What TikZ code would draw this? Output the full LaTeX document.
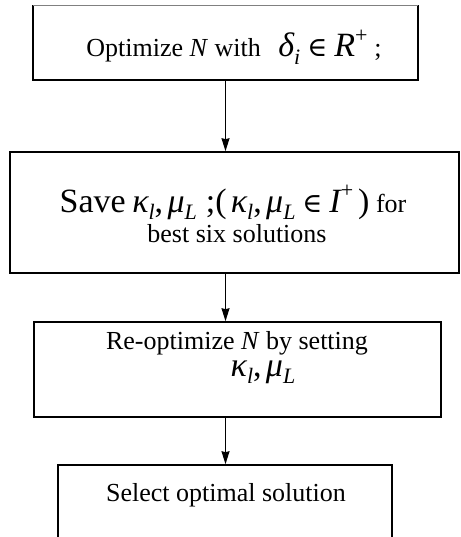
\documentclass[tikz,border=0pt]{standalone}
\usepackage{fontspec}
\setmainfont{Liberation Serif}
\newfontfamily\symf{DejaVu Serif}
\usetikzlibrary{arrows.meta,calc}
\newcommand{\tsz}{\fontsize{26}{31}\selectfont}
\newcommand{\msz}{\fontsize{34}{36}\selectfont}
\newcommand{\ssz}{\fontsize{22}{22}\selectfont}
\newcommand{\mv}[1]{{\msz\itshape #1}}
\newcommand{\sub}[1]{\raisebox{-0.28em}{\ssz\itshape #1}}
\newcommand{\sups}[1]{\raisebox{0.55em}{\ssz #1}}
\newcommand{\elem}{\hspace{7pt}{\symf\fontsize{27}{27}\selectfont ∈}\hspace{7pt}}
\begin{document}
\begin{tikzpicture}[x=1pt,y=-1pt,
  box/.style={draw,line width=1.6pt,rectangle,inner sep=0pt},
  txt/.style={inner sep=0pt,anchor=base,font=\tsz},
  arr/.style={line width=1.3pt,-{Stealth[length=13pt,width=8pt,inset=1pt]}}]
\useasboundingbox (0,0) rectangle (460,537);
\clip (0,0) rectangle (460,537);
\node[box,draw=none,minimum width=383pt,minimum height=73pt] (b1) at (225.5,42.5) {};
\draw[line width=1.6pt] (b1.north west) -- (b1.south west) -- (b1.south east) -- (b1.north east);
\draw[line width=0.9pt,gray] (b1.north west) -- (b1.north east);
\node[box,minimum width=449pt,minimum height=121pt] (b2) at (234.5,212.5) {};
\node[box,minimum width=407pt,minimum height=95pt] (b3) at (237.5,369.5) {};
\node[box,minimum width=334pt,minimum height=120pt] (b4) at (225,525) {};
\node[txt] (t1) at (234,57) {Optimize \textit{N} with \hspace{11pt}\mv{δ}\sub{i}\elem\mv{R}\sups{+}\hspace{7pt};};
\node[txt] (t2a) at (233,212) {{\msz Save} \mv{κ}\sub{l}{\msz,}\,\mv{μ}\sub{L}\hspace{9pt}{\msz;(}\,\mv{κ}\sub{l}{\msz,}\,\mv{μ}\sub{L}\elem\mv{I}\sups{+}\hspace{5pt}{\msz)} for};
\node[txt] (t2b) at (237,242) {best six solutions};
\node[txt] (t3a) at (237,349) {Re-optimize \textit{N} by setting};
\node[txt] (t3b) at (263,376) {\mv{κ}\sub{l}{\msz,}\,\mv{μ}\sub{L}};
\node[txt] (t4) at (226,501) {Select optimal solution};
\draw[arr] (b1.south) -- (b2.north -| b1.south);
\draw[arr] (b2.south -| b1.south) -- (b3.north -| b1.south);
\draw[arr] (b3.south -| b1.south) -- (b4.north -| b1.south);
\end{tikzpicture}
\end{document}
